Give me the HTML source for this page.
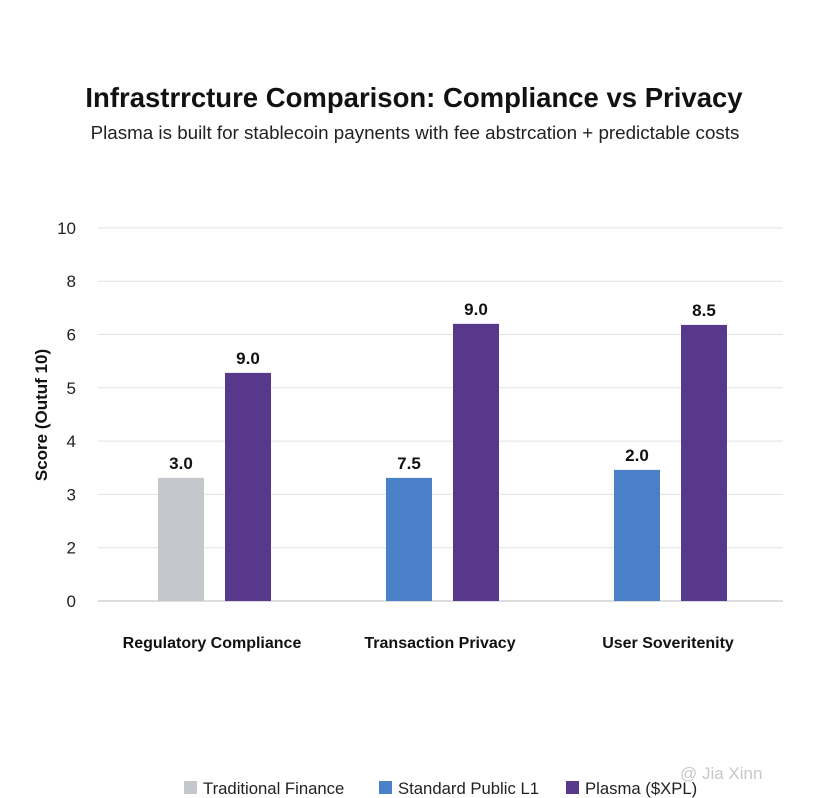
<!DOCTYPE html>
<html><head><meta charset="utf-8"><style>
body{margin:0;background:#fff;font-family:"Liberation Sans",Arial,sans-serif;}
#wrap{position:relative;width:828px;height:798px;overflow:hidden;background:#fff}
</style></head><body>
<div id="wrap">
<svg id="chart" width="828" height="798">
<text x="414" y="107" text-anchor="middle" font-size="27.5" font-weight="bold" fill="#111">Infrastrrcture Comparison: Compliance vs Privacy</text>
<text x="415" y="139" text-anchor="middle" font-size="18.8" fill="#222">Plasma is built for stablecoin paynents with fee abstrcation + predictable costs</text>
<text transform="translate(47,415) rotate(-90)" text-anchor="middle" font-size="17" font-weight="bold" fill="#111">Score (Outuf 10)</text>
<g id="grid"></g><g id="bars"></g><g id="labels"></g>
<g>
<rect x="184" y="781" width="13" height="13" fill="#c4c7cc"/>
<text x="203" y="794" font-size="16.7" fill="#222">Traditional Finance</text>
<rect x="379" y="781" width="13" height="13" fill="#4a80c8"/>
<text x="398" y="794" font-size="16.7" fill="#222">Standard Public L1</text>
<rect x="566" y="781" width="13" height="13" fill="#57388a"/>
<text x="585" y="794" font-size="16.7" fill="#222">Plasma ($XPL)</text>
</g>
<text x="680" y="779" font-size="17" fill="#c8c8c8">@ Jia Xinn</text>
</svg>
</div>
<script>
const tickLabels=["0","2","3","4","5","6","8","10"];
const categories=["Regulatory Compliance","Transaction Privacy","User Soveritenity"];
const firstSeries=[2.31,2.31,2.46];
const plasmaSeries=[4.28,5.2,5.18];
const firstLabels=["3.0","7.5","2.0"];
const plasmaLabels=["9.0","9.0","8.5"];
const firstColors=["#c4c7cc","#4a80c8","#4a80c8"];
const NS="http://www.w3.org/2000/svg";
const x0=98,x1=783,yBase=601,step=53.3;
function y(v){return yBase-v*step;}
function gx(i){return 214+i*228;}
function mk(t,a,p){const e=document.createElementNS(NS,t);for(const k in a)e.setAttribute(k,a[k]);p.appendChild(e);return e;}
const grid=document.getElementById('grid'),bars=document.getElementById('bars'),lab=document.getElementById('labels');
tickLabels.forEach((t,i)=>{
 const l=mk('line',{x1:x0,x2:x1,y1:y(i),y2:y(i),stroke:i==0?'#bbb':'#e2e2e2','stroke-width':1},grid);
 
 
 const tx=mk('text',{x:76,y:y(i)+6,'text-anchor':'end','font-size':17,fill:'#222'},grid);
 tx.textContent=t;
 
 
});
categories.forEach((c,i)=>{
 const cx=gx(i);
 const b1=mk('rect',{x:cx-56,y:y(firstSeries[i]),width:46,height:firstSeries[i]*step,fill:firstColors[i]},bars);
 
 
 const b2=mk('rect',{x:cx+11,y:y(plasmaSeries[i]),width:46,height:plasmaSeries[i]*step,fill:'#57388a'},bars);
 
 
 const t1=mk('text',{x:cx-33,y:y(firstSeries[i])-9,'text-anchor':'middle','font-size':17,'font-weight':'bold',fill:'#111'},lab);
 t1.textContent=firstLabels[i];
 
 
 const t2=mk('text',{x:cx+34,y:y(plasmaSeries[i])-9,'text-anchor':'middle','font-size':17,'font-weight':'bold',fill:'#111'},lab);
 t2.textContent=plasmaLabels[i];
 
 
 const ct=mk('text',{x:cx-2,y:648,'text-anchor':'middle','font-size':16,'font-weight':'bold',fill:'#111'},lab);
 ct.textContent=c;
 
 
});
</script>
</body></html>
